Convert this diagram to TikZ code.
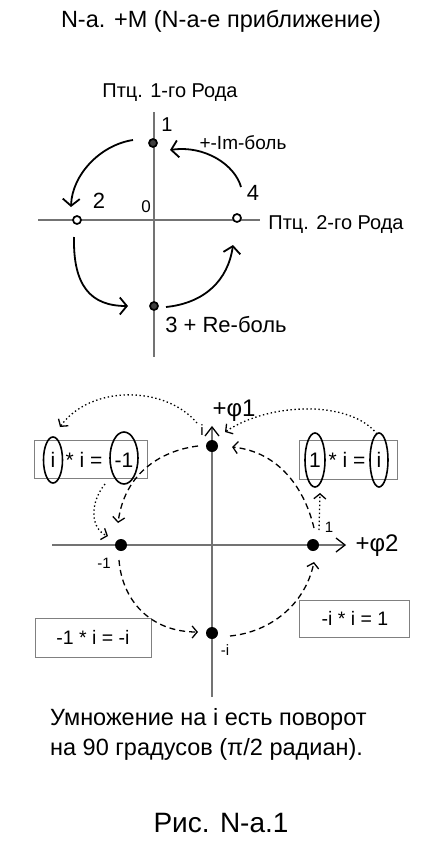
\documentclass[tikz,border=0pt]{standalone}
\usepackage{fontspec}
\setmainfont{Liberation Sans}
\usetikzlibrary{arrows.meta,shapes.geometric,calc}
\newcommand{\myfs}[1]{\fontsize{#1}{#1}\selectfont}
\begin{document}
\begin{tikzpicture}[x=1pt,y=-1pt,
  txt/.style={inner sep=0pt, anchor=center},
  ax/.style={draw=black!55, line width=1.4pt},
  hand/.style={line width=1.8pt, -{Straight Barb[length=7pt,width=17pt,line width=1.8pt]}},
  pt/.style={circle, draw, line width=1.7pt, minimum size=8pt, inner sep=0pt, fill=white},
  ptf/.style={pt, fill=black!75},
  dot/.style={circle, fill=black, minimum size=12pt, inner sep=0pt},
  box/.style={draw=black!50, line width=1pt, inner sep=0pt},
  oval/.style={ellipse, draw, line width=1.6pt, inner sep=0pt},
  dsh/.style={line width=1.3pt, dash pattern=on 6pt off 4pt, -{Straight Barb[length=5pt,width=12pt,line width=1.3pt]}},
  dtt/.style={line width=1.3pt, dash pattern=on 1.4pt off 2.6pt, -{Straight Barb[length=5pt,width=12pt,line width=1.3pt]}}
]
\useasboundingbox (0,0) rectangle (435,854);
% ---------- top diagram ----------
\node[txt] (title) at (221,21) {\myfs{23.5}N-a. +M (N-a-e приближение)};
\node[txt] (rod1) at (170,93) {\myfs{20}Птц. 1-го Рода};
\coordinate (vt) at (154,112); \coordinate (vb) at (154,357);
\coordinate (hl) at (38,220); \coordinate (hr) at (260,220);
\draw[ax] (vt) -- (vb);
\draw[ax] (hl) -- (hr);
\node[ptf] (p1) at (153,143) {};
\node[pt] (p2) at (77,220) {};
\node[ptf] (p3) at (154,306) {};
\node[pt] (p4) at (237,218) {};
\node[txt] (l1) at (167,125) {\myfs{20}1};
\node[txt] (l2) at (99,201) {\myfs{22}2};
\node[txt] (l0) at (146,207) {\myfs{17}0};
\node[txt] (l4) at (253,193) {\myfs{22}4};
\node[txt] (im) at (243,143) {\myfs{19}+-Im-боль};
\node[txt] (rod2) at (336,225) {\myfs{20}Птц. 2-го Рода};
\node[txt] (re) at (226,325) {\myfs{22}3 + Re-боль};
\draw[hand] ($(p1)+(-20,-3)$) .. controls (100,145) and (72,175) .. ($(p2)+(-6,-13)$);
\draw[hand] ($(p4)+(4,-31)$) .. controls (235,165) and (205,145) .. ($(p1)+(17,7)$);
\draw[hand] ($(p2)+(-3,17)$) .. controls (73,285) and (90,306) .. ($(p3)+(-26,0)$);
\draw[hand] ($(p3)+(12,1)$) .. controls (205,303) and (228,280) .. ($(p4)+(-4,27)$);
% ---------- bottom diagram ----------
\coordinate (bvt) at (212,427); \coordinate (bvb) at (212,697);
\coordinate (bhl) at (52,545); \coordinate (bhr) at (345,545);
\draw[ax, line width=1.2pt] (bvb) -- (bvt);
\draw[ax, line width=1.2pt] (bhl) -- (bhr);
\draw[line width=1.3pt] (205,436) -- (212,427) -- (219,436);
\draw[line width=1.3pt] (336,538) -- (345,545) -- (336,552);
\node[txt] (phi1) at (234,411) {\myfs{24}+φ1};
\node[txt] (phi2) at (377,546) {\myfs{24}+φ2};
\node[dot] (qi) at (212,446) {};
\node[dot] (qm1) at (121,545) {};
\node[dot] (q1) at (313,545) {};
\node[dot] (qmi) at (212,633) {};
\node[txt] (li) at (202,430) {\myfs{15}i};
\node[txt] (lm1) at (104,563) {\myfs{15}-1};
\node[txt] (l1b) at (329,527) {\myfs{15}1};
\node[txt] (lmi) at (225,650) {\myfs{15}-i};
\node[box, minimum width=113pt, minimum height=38pt] (b1) at (90.5,459) {};
\node[txt] (b1a) at (53,460) {\myfs{21}i};
\node[txt] (b1b) at (84,460) {\myfs{21}* i =};
\node[txt] (b1c) at (124,460) {\myfs{21}-1};
\node[box, minimum width=98pt, minimum height=39pt] (b2) at (348,459.5) {};
\node[txt] (b2a) at (315,460) {\myfs{21}1};
\node[txt] (b2b) at (347,460) {\myfs{21}* i =};
\node[txt] (b2c) at (379,460) {\myfs{21}i};
\node[box, minimum width=116pt, minimum height=39pt] (b3) at (93,637.5) {};
\node[txt] at (93,637.5) {\myfs{19.5}-1 * i = -i};
\node[box, minimum width=110pt, minimum height=37pt] (b4) at (354,618.5) {};
\node[txt] at (355,618.5) {\myfs{19.5}-i * i = 1};
\node[oval, minimum width=19pt, minimum height=46pt] (e1) at (53,460) {};
\node[oval, minimum width=28pt, minimum height=52pt] (e2) at (124,458) {};
\node[oval, minimum width=20pt, minimum height=54pt] (e3) at (315,460) {};
\node[oval, minimum width=18pt, minimum height=54pt] (e4) at (379,460) {};
% connectors
\draw[dtt] ($(qi)+(-15,-23)$) .. controls (165,385) and (90,385) .. ($(e1)+(7,-33)$);
\draw[dtt] ($(e4)+(-2,-26)$) .. controls (350,400) and (270,402) .. ($(qi)+(13,-14)$);
\draw[dsh] ($(qi)+(-14,0)$) .. controls (165,450) and (125,470) .. ($(qm1)+(-3,-22)$);
\draw[dtt] ($(e2)+(-19,26)$) .. controls (88,505) and (92,530) .. ($(qm1)+(-13,-9)$);
\draw[dsh] ($(q1)+(1,-17)$) .. controls (305,490) and (280,452) .. ($(qi)+(20,1)$);
\draw[dtt] ($(q1)+(6,-15)$) -- ($(e3)+(5,33)$);
\draw[dsh] ($(qm1)+(-2,15)$) .. controls (122,600) and (150,632) .. ($(qmi)+(-14,-1)$);
\draw[dsh] ($(qmi)+(18,3)$) .. controls (270,632) and (305,605) .. ($(q1)+(1,17)$);
% ---------- bottom text ----------
\node[txt, anchor=west] (t1) at (50,719) {\myfs{23.5}Умножение на i есть поворот};
\node[txt, anchor=west] (t2) at (50,749) {\myfs{23.5}на 90 градусов (π/2 радиан).};
\node[txt] (fig) at (221,823) {\myfs{28}Рис. N-a.1};
\end{tikzpicture}
\end{document}
